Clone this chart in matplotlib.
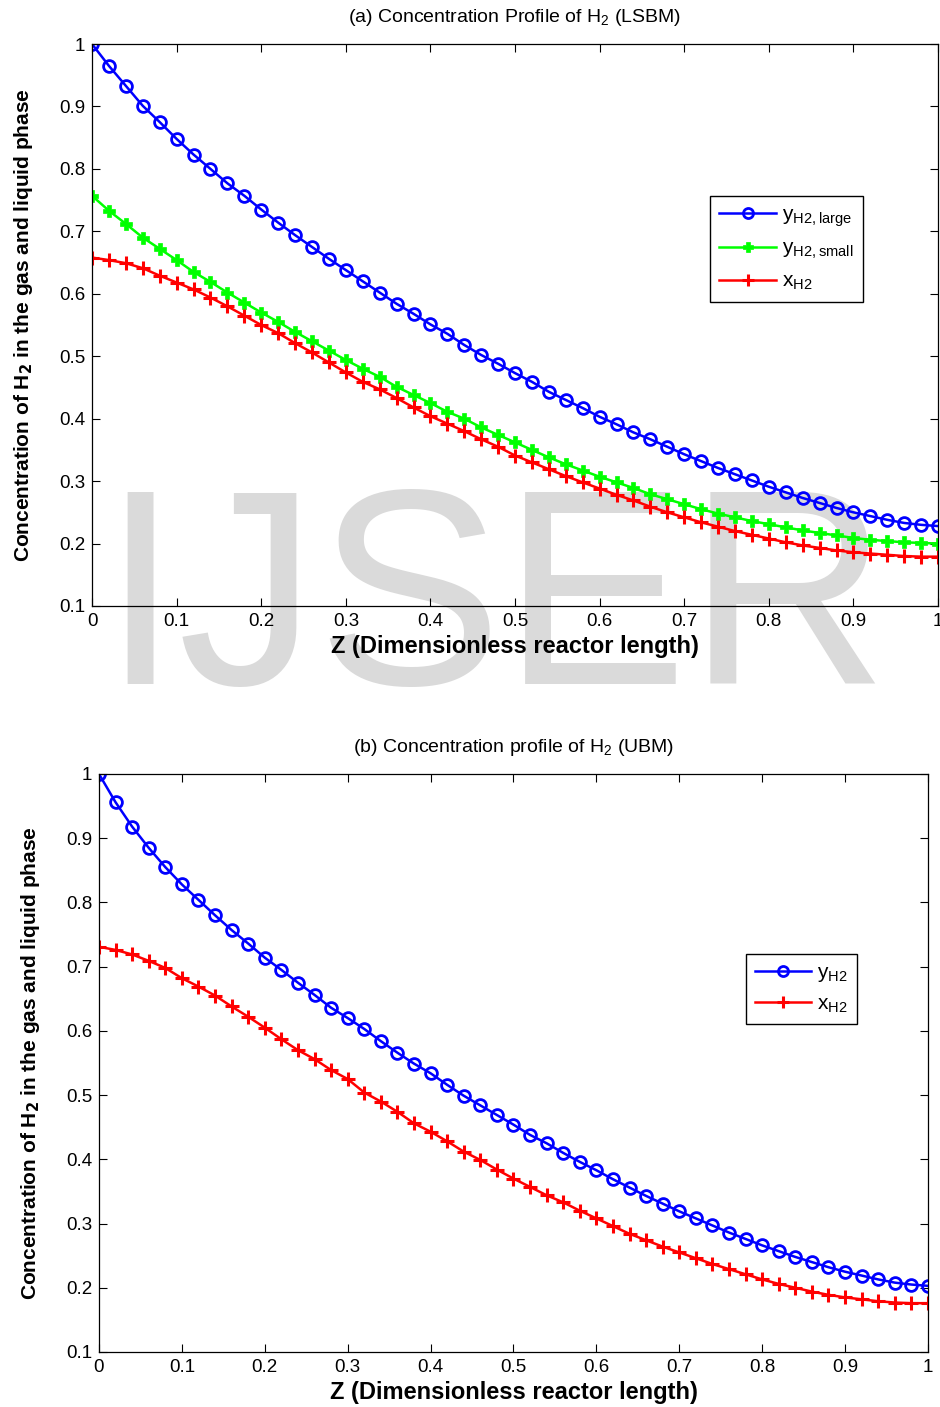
import matplotlib
matplotlib.use("Agg")
import matplotlib.pyplot as plt
import numpy as np

plt.rcParams['font.family'] = ['Liberation Sans', 'DejaVu Sans']
plt.rcParams['mathtext.default'] = 'regular'

# dimensionless reactor length, one marker every 0.02
z = np.round(np.arange(0, 51) * 0.02, 2)

# (a) LSBM
y_large = [1.000, 0.965, 0.933, 0.901, 0.875, 0.848, 0.823, 0.800, 0.777, 0.757,
           0.735, 0.714, 0.694, 0.675, 0.656, 0.638, 0.620, 0.602, 0.584, 0.568,
           0.551, 0.536, 0.518, 0.502, 0.488, 0.473, 0.459, 0.443, 0.430, 0.417,
           0.403, 0.391, 0.378, 0.367, 0.355, 0.343, 0.332, 0.321, 0.311, 0.301,
           0.291, 0.282, 0.273, 0.265, 0.257, 0.250, 0.244, 0.238, 0.233, 0.230,
           0.228]
y_small = [0.757, 0.733, 0.712, 0.690, 0.672, 0.654, 0.635, 0.619, 0.602, 0.586,
           0.570, 0.555, 0.539, 0.524, 0.509, 0.494, 0.480, 0.467, 0.451, 0.438,
           0.425, 0.411, 0.400, 0.386, 0.374, 0.362, 0.350, 0.338, 0.327, 0.317,
           0.307, 0.298, 0.289, 0.279, 0.271, 0.263, 0.255, 0.248, 0.242, 0.236,
           0.231, 0.226, 0.221, 0.217, 0.213, 0.209, 0.206, 0.204, 0.202, 0.201,
           0.200]
x_lsbm = [0.658, 0.654, 0.649, 0.641, 0.629, 0.618, 0.607, 0.594, 0.580, 0.565,
          0.550, 0.537, 0.521, 0.506, 0.490, 0.474, 0.459, 0.447, 0.433, 0.418,
          0.404, 0.392, 0.380, 0.367, 0.355, 0.341, 0.330, 0.319, 0.308, 0.298,
          0.288, 0.278, 0.269, 0.259, 0.250, 0.242, 0.234, 0.227, 0.220, 0.214,
          0.208, 0.202, 0.197, 0.193, 0.189, 0.186, 0.184, 0.182, 0.180, 0.179,
          0.179]

# (b) UBM
y_ubm = [1.000, 0.956, 0.918, 0.885, 0.855, 0.828, 0.804, 0.780, 0.757, 0.736,
         0.714, 0.695, 0.675, 0.656, 0.636, 0.620, 0.603, 0.584, 0.566, 0.549,
         0.534, 0.516, 0.499, 0.484, 0.469, 0.454, 0.438, 0.425, 0.410, 0.396,
         0.383, 0.369, 0.356, 0.343, 0.331, 0.319, 0.308, 0.297, 0.286, 0.276,
         0.266, 0.257, 0.248, 0.240, 0.232, 0.225, 0.219, 0.213, 0.208, 0.205,
         0.203]
x_ubm = [0.731, 0.726, 0.719, 0.709, 0.698, 0.682, 0.669, 0.655, 0.638, 0.622,
         0.605, 0.587, 0.570, 0.556, 0.539, 0.525, 0.504, 0.490, 0.474, 0.456,
         0.443, 0.428, 0.412, 0.399, 0.384, 0.370, 0.357, 0.344, 0.333, 0.320,
         0.308, 0.296, 0.284, 0.274, 0.264, 0.255, 0.246, 0.237, 0.229, 0.221,
         0.213, 0.206, 0.200, 0.194, 0.189, 0.185, 0.182, 0.179, 0.177, 0.176,
         0.176]

xticks = np.round(np.arange(0, 1.01, 0.1), 1)
yticks = np.round(np.arange(0.1, 1.01, 0.1), 1)
xtick_labels = ['0'] + ['%g' % t for t in xticks[1:-1]] + ['1']
ytick_labels = ['%g' % t for t in yticks[:-1]] + ['1']

fig = plt.figure(figsize=(9.4, 14.07), dpi=100)

# watermark behind everything
fig.text(0.526, 0.514, 'IJSER', fontsize=200, color='#dadada',
         ha='center', va='baseline', zorder=-5)

ax1 = fig.add_axes([0.0979, 0.5693, 0.9, 0.3994])
ax2 = fig.add_axes([0.1053, 0.0391, 0.8819, 0.4108])


def style(ax, title, ylab_x):
    ax.patch.set_alpha(0)
    ax.set_xlim(0, 1)
    ax.set_ylim(0.1, 1)
    ax.set_xticks(xticks)
    ax.set_xticklabels(xtick_labels)
    ax.set_yticks(yticks)
    ax.set_yticklabels(ytick_labels)
    ax.tick_params(direction='in', top=True, right=True, labelsize=13.5,
                   length=6, width=0.8, pad=5)
    for s in ax.spines.values():
        s.set_linewidth(0.9)
    ax.set_title(title, fontsize=14, pad=16)
    ax.set_xlabel('Z (Dimensionless reactor length)', fontsize=17,
                  fontweight='bold', labelpad=4)
    ax.set_ylabel(r'Concentration of H$_\mathbf{2}$ in the gas and liquid phase',
                  fontsize=15, fontweight='bold')
    ax.yaxis.set_label_coords(ylab_x, 0.5)


legend_kw = dict(loc='upper left', fontsize=15, frameon=True, fancybox=False,
                 edgecolor='black', framealpha=1, handlelength=2.7,
                 borderpad=0.45, labelspacing=0.5, handletextpad=0.3,
                 borderaxespad=0, markerscale=0.85)

ax1.plot(z, y_large, color='#0000ff', lw=1.8, marker='o', ms=8.5, mfc='none',
         mew=2, label=r'y$_{H2,large}$')
ax1.plot(z, y_small, color='#00ff00', lw=1.8, marker='P', ms=8,
         mew=0.5, label=r'y$_{H2,small}$')
ax1.plot(z, x_lsbm, color='#ff0000', lw=1.8, marker='+', ms=10,
         mew=2.2, label=r'x$_{H2}$')
style(ax1, r'(a) Concentration Profile of H$_2$ (LSBM)', -0.067)
ax1.legend(bbox_to_anchor=(0.7305, 0.7295), **legend_kw)

ax2.plot(z, y_ubm, color='#0000ff', lw=1.8, marker='o', ms=8.5, mfc='none',
         mew=2, label=r'y$_{H2}$')
ax2.plot(z, x_ubm, color='#ff0000', lw=1.8, marker='+', ms=10,
         mew=2.2, label=r'x$_{H2}$')
style(ax2, r'(b) Concentration profile of H$_2$ (UBM)', -0.069)
ax2.legend(bbox_to_anchor=(0.780, 0.6886), **legend_kw)

fig.savefig('out.png', dpi=100)
